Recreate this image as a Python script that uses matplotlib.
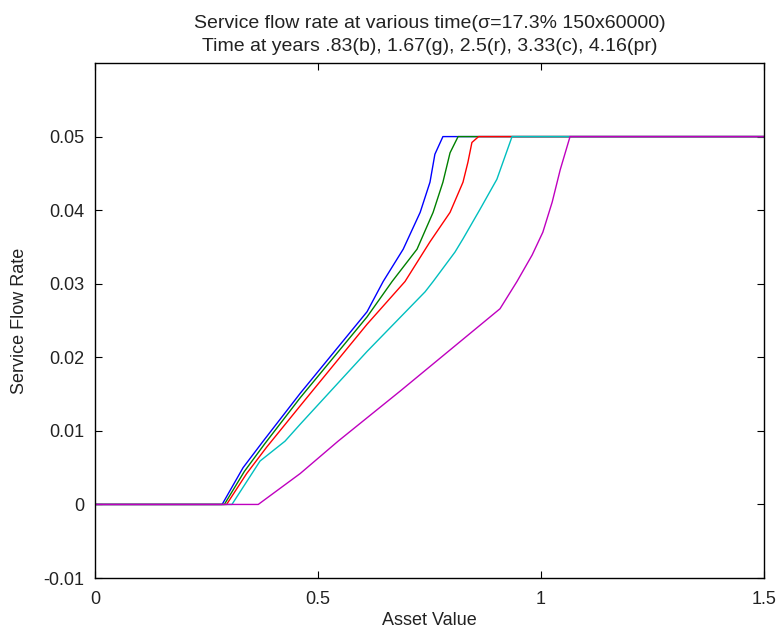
import numpy as np
import matplotlib
matplotlib.use('Agg')
import matplotlib.pyplot as plt

plt.rcParams['font.family'] = ['Liberation Sans', 'DejaVu Sans']

# years .83 (blue)
x_b = [0, 0.285, 0.332, 0.377, 0.46, 0.61, 0.646, 0.691, 0.729, 0.751, 0.762, 0.780, 1.5]
y_b = [0, 0, 0.0050, 0.0086, 0.0151, 0.0262, 0.0303, 0.0347, 0.0397, 0.0438, 0.0476, 0.05, 0.05]

# years 1.67 (green)
x_g = [0, 0.290, 0.335, 0.38, 0.46, 0.61, 0.666, 0.722, 0.758, 0.780, 0.796, 0.814, 1.5]
y_g = [0, 0, 0.0045, 0.0082, 0.0145, 0.0255, 0.0303, 0.0347, 0.0397, 0.0438, 0.0478, 0.05, 0.05]

# years 2.5 (red)
x_r = [0, 0.295, 0.34, 0.385, 0.46, 0.61, 0.695, 0.751, 0.796, 0.825, 0.836, 0.845, 0.86, 1.5]
y_r = [0, 0, 0.0042, 0.0078, 0.0134, 0.0245, 0.0303, 0.0357, 0.0397, 0.0438, 0.0465, 0.0492, 0.05, 0.05]

# years 3.33 (cyan)
x_c = [0, 0.307, 0.37, 0.426, 0.46, 0.61, 0.740, 0.758, 0.807, 0.825, 0.863, 0.901, 0.935, 1.5]
y_c = [0, 0, 0.0059, 0.0086, 0.0109, 0.0208, 0.0289, 0.0303, 0.0343, 0.0361, 0.0401, 0.0442, 0.05, 0.05]

# years 4.16 (purple)
x_m = [0, 0.366, 0.46, 0.545, 0.684, 0.908, 0.946, 0.980, 1.004, 1.025, 1.043, 1.065, 1.5]
y_m = [0, 0, 0.0042, 0.0086, 0.0154, 0.0266, 0.0303, 0.0339, 0.0370, 0.0411, 0.0455, 0.05, 0.05]

xticks = [0, 0.5, 1, 1.5]
xtick_labels = ['0', '0.5', '1', '1.5']
yticks = [-0.01, 0, 0.01, 0.02, 0.03, 0.04, 0.05]
ytick_labels = ['-0.01', '0', '0.01', '0.02', '0.03', '0.04', '0.05']

fig = plt.figure(figsize=(7.78, 6.34), dpi=100)
ax = fig.add_axes([0.1221, 0.0883, 0.860, 0.8123])

ax.plot(x_b, y_b, color=(0, 0, 1), lw=1)
ax.plot(x_g, y_g, color=(0, 0.5, 0), lw=1)
ax.plot(x_r, y_r, color=(1, 0, 0), lw=1)
ax.plot(x_c, y_c, color=(0, 0.75, 0.75), lw=1)
ax.plot(x_m, y_m, color=(0.75, 0, 0.75), lw=1)

ax.set_xlim(0, 1.5)
ax.set_ylim(-0.01, 0.06)
ax.set_xticks(xticks)
ax.set_xticklabels(xtick_labels)
ax.set_yticks(yticks)
ax.set_yticklabels(ytick_labels)
ax.tick_params(direction='in', top=True, right=True, labelsize=13, length=5,
               labelcolor='#222222')
ax.tick_params(axis='x', pad=9)
ax.tick_params(axis='y', pad=8)
for s in ax.spines.values():
    s.set_linewidth(1)

ax.set_xlabel('Asset Value', fontsize=13, color='#222222')
ax.xaxis.set_label_coords(0.5, -0.066)
ax.set_ylabel('Service Flow Rate', fontsize=13, color='#222222')
ax.yaxis.set_label_coords(-0.1, 0.5)
ax.set_title('Service flow rate at various time(σ=17.3% 150x60000)\n'
             'Time at years .83(b), 1.67(g), 2.5(r), 3.33(c), 4.16(pr)',
             fontsize=14, pad=9, linespacing=1.45, color='#222222')

fig.savefig('out.png', dpi=100)
